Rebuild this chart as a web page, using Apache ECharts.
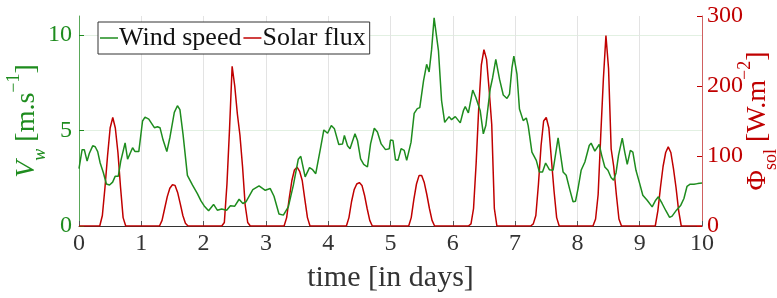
<!DOCTYPE html>
<html>
<head>
<meta charset="utf-8">
<script src="https://cdn.jsdelivr.net/npm/echarts@6/dist/echarts.min.js"></script>
<style>
  html, body { margin: 0; padding: 0; background: #fff; }
  #main { width: 777px; height: 298px; }
</style>
</head>
<body>
<div id="main"></div>
<script>
// wind speed (time in days, m/s)
var windTime = [0.00, 0.05, 0.085, 0.13, 0.165, 0.22, 0.26, 0.30, 0.34, 0.39, 0.44, 0.49, 0.54, 0.58, 0.63, 0.67, 0.74, 0.78, 0.81, 0.86, 0.90, 0.96,
    1.02, 1.06, 1.12, 1.17, 1.21, 1.26, 1.30, 1.35, 1.41, 1.46, 1.53, 1.58, 1.62, 1.67, 1.74, 1.82, 1.90, 1.96,
    2.01, 2.08, 2.16, 2.22, 2.29, 2.37, 2.43, 2.50, 2.57, 2.63, 2.68, 2.79, 2.89, 2.99,
    3.07, 3.13, 3.21, 3.28, 3.36, 3.44, 3.52, 3.56, 3.63, 3.70, 3.75, 3.80, 3.88, 3.93, 3.99,
    4.05, 4.10, 4.17, 4.23, 4.26, 4.31, 4.35, 4.43, 4.47, 4.52, 4.57, 4.63, 4.68, 4.74, 4.79, 4.85, 4.92, 4.98,
    5.00, 5.04, 5.08, 5.12, 5.17, 5.22, 5.26, 5.29, 5.33, 5.38, 5.43, 5.47, 5.53, 5.58, 5.62, 5.66, 5.70, 5.77, 5.82, 5.87, 5.94, 5.98,
    6.04, 6.12, 6.17, 6.20, 6.25, 6.32, 6.37, 6.44, 6.49, 6.53, 6.60, 6.64, 6.69, 6.75, 6.81, 6.87, 6.91, 6.95, 6.98,
    7.03, 7.07, 7.13, 7.18, 7.21, 7.27, 7.34, 7.39, 7.44, 7.49, 7.55, 7.61, 7.69, 7.77, 7.82, 7.88, 7.93, 7.97,
    8.01, 8.06, 8.12, 8.15, 8.19, 8.22, 8.28, 8.31, 8.35, 8.39, 8.44, 8.49, 8.54, 8.58, 8.62, 8.66, 8.72, 8.76, 8.80, 8.85, 8.89, 8.94,
    9.00, 9.05, 9.12, 9.20, 9.25, 9.30, 9.36, 9.42, 9.48, 9.52, 9.59, 9.66, 9.71, 9.76, 9.81, 9.87, 9.93, 10.0];
var windSpeed = [3.0, 4.0, 4.0, 3.4, 3.8, 4.2, 4.15, 3.9, 3.3, 2.8, 2.2, 2.15, 2.3, 2.6, 2.6, 3.4, 4.35, 3.5, 3.4, 4.1, 3.9, 3.9,
    5.5, 5.7, 5.6, 5.35, 5.15, 5.2, 5.15, 4.5, 3.9, 4.65, 5.95, 6.3, 6.1, 4.8, 2.65, 2.15, 1.7, 1.3,
    1.05, 0.8, 1.13, 0.83, 0.89, 0.83, 1.06, 1.04, 1.4, 1.18, 1.27, 1.9, 2.1, 1.87,
    1.96, 1.56, 0.63, 0.57, 1.0, 2.13, 3.5, 3.65, 2.57, 3.06, 2.95, 2.74, 4.13, 5.03, 4.86,
    5.26, 5.09, 4.27, 4.3, 4.74, 4.2, 4.05, 4.83, 4.48, 3.52, 3.23, 3.09, 4.3, 5.12, 4.92, 4.3, 4.0, 4.05,
    4.5, 4.48, 3.47, 3.44, 4.05, 3.96, 3.44, 3.44, 4.39, 5.9, 6.15, 6.2, 7.6, 8.47, 8.07, 9.25, 10.9, 9.17, 6.56, 5.43, 5.73, 5.57,
    5.73, 5.4, 6.04, 6.25, 5.92, 7.12, 6.73, 6.04, 4.83, 5.26, 7.17, 7.78, 8.73, 7.69, 6.86, 6.68, 6.91, 8.3, 8.9,
    7.95, 6.13, 5.52, 5.66, 5.26, 3.87, 3.44, 2.83, 2.83, 3.3, 2.95, 2.92, 4.62, 2.83, 2.66, 1.88, 1.27, 1.3,
    1.96, 2.92, 3.35, 3.44, 4.22, 4.34, 3.92, 3.96, 4.27, 3.7, 3.09, 2.92, 2.54, 2.4, 2.78, 3.7, 4.6, 3.87, 3.23, 3.96, 3.87, 2.92,
    2.22, 1.61, 1.35, 1.0, 1.32, 1.53, 1.18, 0.8, 0.45, 0.52, 0.83, 1.09, 1.44, 2.08, 2.19, 2.19, 2.22, 2.25];

// solar flux (time in days, W/m2)
var solarTime = [0, 0.333, 0.375, 0.417, 0.458, 0.5, 0.542, 0.583, 0.625, 0.667, 0.708, 0.75,
    1.292, 1.333, 1.375, 1.417, 1.458, 1.5, 1.542, 1.583, 1.625, 1.667, 1.708, 1.75,
    2.292, 2.333, 2.375, 2.417, 2.458, 2.5, 2.542, 2.583, 2.625, 2.667, 2.708, 2.75,
    3.292, 3.333, 3.375, 3.417, 3.458, 3.5, 3.542, 3.583, 3.625, 3.667, 3.708,
    4.292, 4.333, 4.375, 4.417, 4.458, 4.5, 4.542, 4.583, 4.625, 4.667, 4.708,
    5.292, 5.333, 5.375, 5.417, 5.458, 5.5, 5.542, 5.583, 5.625, 5.667, 5.708,
    6.25, 6.292, 6.333, 6.375, 6.417, 6.458, 6.5, 6.542, 6.583, 6.625, 6.667, 6.708,
    7.25, 7.292, 7.333, 7.375, 7.417, 7.458, 7.5, 7.542, 7.583, 7.625, 7.667, 7.708,
    8.25, 8.292, 8.333, 8.375, 8.417, 8.458, 8.5, 8.542, 8.583, 8.625, 8.667, 8.708,
    9.25, 9.292, 9.333, 9.375, 9.417, 9.458, 9.5, 9.542, 9.583, 9.625, 9.667, 10];
var solarFlux = [0, 0, 15, 55, 100, 140, 155, 140, 105, 55, 12, 0,
    0, 8, 25, 42, 54, 59, 58, 48, 32, 15, 4, 0,
    0, 5, 60, 140, 228, 200, 160, 130, 85, 30, 5, 0,
    0, 12, 40, 65, 80, 84, 78, 65, 38, 12, 0,
    0, 12, 35, 52, 60, 62, 58, 44, 25, 8, 0,
    0, 12, 38, 60, 72, 72, 62, 45, 25, 8, 0,
    0, 3, 25, 90, 170, 230, 252, 238, 195, 145, 25, 0,
    0, 3, 15, 60, 115, 150, 155, 140, 95, 50, 12, 0,
    0, 10, 45, 130, 210, 272, 225, 110, 85, 45, 10, 0,
    0, 22, 55, 85, 105, 113, 105, 82, 55, 22, 0, 0];

var xTicks = [0, 1, 2, 3, 4, 5, 6, 7, 8, 9, 10];
var windTicks = [0, 5, 10];
var solarTicks = [0, 100, 200, 300];

var GREEN = '#1e8c1e';
var RED = '#c00000';
var FONT = 'Liberation Serif';

var windData = windTime.map(function(t, i) { return [t, windSpeed[i]]; });
var solarData = solarTime.map(function(t, i) { return [t, solarFlux[i]]; });

var myChart = echarts.init(document.getElementById('main'));
var option = {
    animation: false,
    grid: { left: 79, right: 75, top: 16, bottom: 72, outerBoundsMode: 'none', containLabel: false },
    legend: {
        left: 98, top: 22,
        padding: [3, 4, 3, 2],
        itemGap: 2,
        itemWidth: 18,
        itemHeight: 1.5,
        icon: 'rect',
        borderColor: '#333',
        borderWidth: 1,
        borderRadius: 0,
        backgroundColor: '#fff',
        textStyle: { fontFamily: FONT, fontSize: 26, color: '#111', padding: [0, 0, 0, -4] },
        data: ['Wind speed', 'Solar flux']
    },
    xAxis: {
        type: 'value', min: 0, max: 10, interval: 1,
        name: 'time [in days]', nameLocation: 'middle', nameGap: 37,
        nameTextStyle: { fontFamily: FONT, fontSize: 30, color: '#333' },
        axisLine: { onZero: false, lineStyle: { color: '#333', width: 1 } },
        axisTick: { inside: true, length: 5, lineStyle: { color: '#555' }, customValues: xTicks },
        axisLabel: { fontFamily: FONT, fontSize: 24, color: '#333', margin: 6, customValues: xTicks },
        splitLine: { show: true, lineStyle: { color: '#e3e3e3', width: 1 } }
    },
    yAxis: [
        {
            type: 'value', min: 0, max: 11, interval: 5, position: 'left',
            name: '{it|V}{sub|w} [m.s{sup|\u22121}]',
            nameLocation: 'middle', nameGap: 36, nameRotate: 90, nameMoveOverlap: false,
            nameTextStyle: {
                fontFamily: FONT, fontSize: 28, color: GREEN, lineHeight: 32,
                rich: {
                    it: { fontFamily: FONT, fontStyle: 'italic', fontSize: 28, color: GREEN, lineHeight: 32 },
                    sub: { fontFamily: FONT, fontStyle: 'italic', fontSize: 18, color: GREEN, lineHeight: 32, verticalAlign: 'bottom', padding: [0, 0, -6, 0] },
                    sup: { fontFamily: FONT, fontSize: 18, color: GREEN, lineHeight: 32, verticalAlign: 'top', padding: [-6, 0, 0, 0] }
                }
            },
            axisLine: { show: true, lineStyle: { color: '#5aa85a', width: 1 } },
            axisTick: { show: true, inside: true, length: 5, lineStyle: { color: GREEN }, customValues: windTicks },
            axisLabel: { fontFamily: FONT, fontSize: 24, color: GREEN, margin: 7, customValues: windTicks },
            splitLine: { show: true, lineStyle: { color: '#e2f0e2', width: 1 } }
        },
        {
            type: 'value', min: 0, max: 300, interval: 100, position: 'right',
            name: '\u03a6{sub|sol} [W.m{sup|\u22122}]',
            nameLocation: 'middle', nameGap: 40, nameRotate: 90, nameMoveOverlap: false,
            nameTextStyle: {
                fontFamily: FONT, fontSize: 28, color: RED, lineHeight: 32,
                rich: {
                    sub: { fontFamily: FONT, fontSize: 18, color: RED, lineHeight: 32, verticalAlign: 'bottom', padding: [0, 0, -6, 0] },
                    sup: { fontFamily: FONT, fontSize: 18, color: RED, lineHeight: 32, verticalAlign: 'top', padding: [-6, 0, 0, 0] }
                }
            },
            axisLine: { show: true, lineStyle: { color: '#d06060', width: 1 } },
            axisTick: { show: true, inside: true, length: 5, lineStyle: { color: RED }, customValues: solarTicks },
            axisLabel: { fontFamily: FONT, fontSize: 24, color: RED, margin: 5, customValues: solarTicks },
            splitLine: { show: false }
        }
    ],
    series: [
        {
            name: 'Wind speed', type: 'line', yAxisIndex: 0,
            data: windData, symbol: 'none', smooth: false,
            itemStyle: { color: GREEN },
            lineStyle: { color: GREEN, width: 1.5 },
            z: 3
        },
        {
            name: 'Solar flux', type: 'line', yAxisIndex: 1,
            data: solarData, symbol: 'none', smooth: false,
            itemStyle: { color: RED },
            lineStyle: { color: RED, width: 1.5 },
            z: 2
        }
    ]
};
myChart.setOption(option);
window.onresize = function() {
    myChart.resize();
};
</script>
</body>
</html>
